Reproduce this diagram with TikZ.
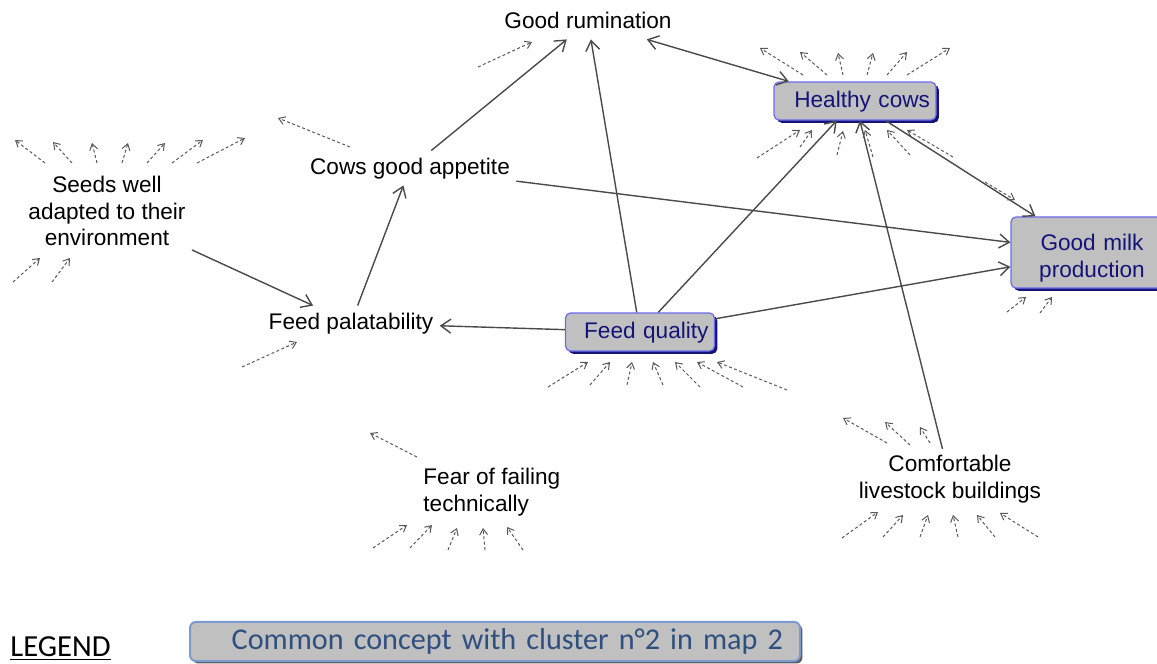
\documentclass[tikz,border=0pt]{standalone}
\usepackage{fontspec}
\setmainfont{Liberation Sans}
\newfontfamily\legendfont{Carlito}
\usetikzlibrary{arrows.meta,shadows}
\definecolor{boxgray}{HTML}{C0C0C0}
\definecolor{boxblue}{HTML}{6A6AF0}
\definecolor{boxnavy}{HTML}{141478}
\definecolor{legblue}{HTML}{7A9AD0}
\definecolor{legtext}{HTML}{2F4F80}
\definecolor{linkgray}{HTML}{4A4A4A}

\begin{document}
\begin{tikzpicture}[x = 0.5pt, y = -0.5pt,
    >={Straight Barb[length=5pt,width=7pt]},
    concept/.style = {font=\fontsize{11.3}{13.2}\selectfont, inner sep=3pt},
    oneline/.style = {concept, text height=8.5pt, text depth=2.5pt},
    common/.style = {concept, draw=boxblue, line width=0.6pt, fill=boxgray, text=boxnavy,
      rounded corners=2.5pt, inner xsep=4pt,
      drop shadow={shadow xshift=1.4pt, shadow yshift=-1.4pt, fill=boxnavy, opacity=1}},
    link/.style = {draw=linkgray, line width=0.7pt, ->},
    both/.style = {link, <->},
    stub/.style = {draw=gray!70!black, line width=0.5pt, dash pattern=on 1.5pt off 1.2pt,
      -{Straight Barb[length=3pt,width=4pt]}}]

    \useasboundingbox (0,0) rectangle (1157,664);

    \node[oneline] (gr) at (588,22) {Good rumination};
    \node[common, oneline, text width=75pt, align=right, minimum height=19pt] (hc) at (855,101) {Healthy cows};
    \node[common, text width=73pt, align=center, minimum height=32.5pt] (gmp) at (1092,252.5) {\rule{0pt}{14pt}Good milk\\production};
    \node[common, oneline, text width=68.5pt, align=right, minimum height=19pt] (fq) at (640,332) {Feed quality};
    \node[oneline] (cga) at (410,168) {Cows good appetite};
    \node[oneline] (fp) at (351,323) {Feed palatability};
    \node[concept, align=center] (seeds) at (107,211) {Seeds well\\adapted to their\\environment};
    \node[concept, align=left, anchor=west] (fear) at (417,492) {Fear of failing\\technically};
    \node[concept, align=center] (comf) at (950,479) {Comfortable\\livestock buildings};

    \draw[link] (cga) -- (gr);
    \draw[link] (fq) -- (gr);
    \draw[both] (gr) -- (hc);
    \draw[link] (fq) -- (hc);
    \draw[link] (comf) -- (hc);
    \draw[link] (hc) -- (gmp);
    \draw[link] (cga) -- (gmp);
    \draw[link] (fq) -- (gmp);
    \draw[link] (fq) -- (fp);
    \draw[link] (fp) -- (cga);
    \draw[link] (seeds) -- (fp);

    \foreach \xa/\ya/\xb/\yb in {478/67/532/42,
        803/75/760/48, 827/75/800/52, 843/75/838/53, 867/75/873/53, 887/75/907/52, 907/75/950/48,
        757/158/800/130, 800/147/812/130, 837/155/843/131, 873/157/865/130, 910/155/887/130, 953/157/907/130,
        985/182/1015/200, 1007/312/1026/297, 1040/313/1052/297,
        548/387/588/362, 590/385/610/362, 627/385/632/362, 663/385/653/362, 700/387/675/362, 743/387/697/362, 787/390/717/362,
        45/163/15/140, 72/163/53/142, 97/163/92/143, 122/163/128/143, 147/163/165/143, 172/163/203/140, 197/163/245/138,
        13/282/40/258, 52/282/70/258,
        350/147/278/118, 242/367/297/342,
        417/457/370/433, 373/548/407/525, 410/548/432/525, 448/550/457/528, 485/550/483/528, 523/550/507/527,
        887/443/843/418, 910/445/885/422, 930/443/920/427,
        842/538/878/512, 883/537/903/515, 920/537/928/515, 958/537/953/515, 995/537/977/515, 1038/537/1000/513}
      \draw[stub] (\xa,\ya) -- (\xb,\yb);

    \node[anchor=base west, inner sep=0pt, font=\legendfont\fontsize{15.3}{18}\selectfont] (leg) at (10,656) {\underline{LEGEND}};
    \node[draw=legblue, line width=1pt, fill=boxgray, rounded corners=3pt,
      minimum width=305pt, minimum height=18.5pt, inner xsep=8.5pt, text width=288pt, align=right,
      text=legtext, font=\legendfont\fontsize{15.1}{18}\selectfont,
      drop shadow={shadow xshift=1.2pt, shadow yshift=-1.2pt, fill=gray!70!black, opacity=1}] (key) at (495,641.5) {Common concept with cluster n°2 in map 2};
\end{tikzpicture}
\end{document}
